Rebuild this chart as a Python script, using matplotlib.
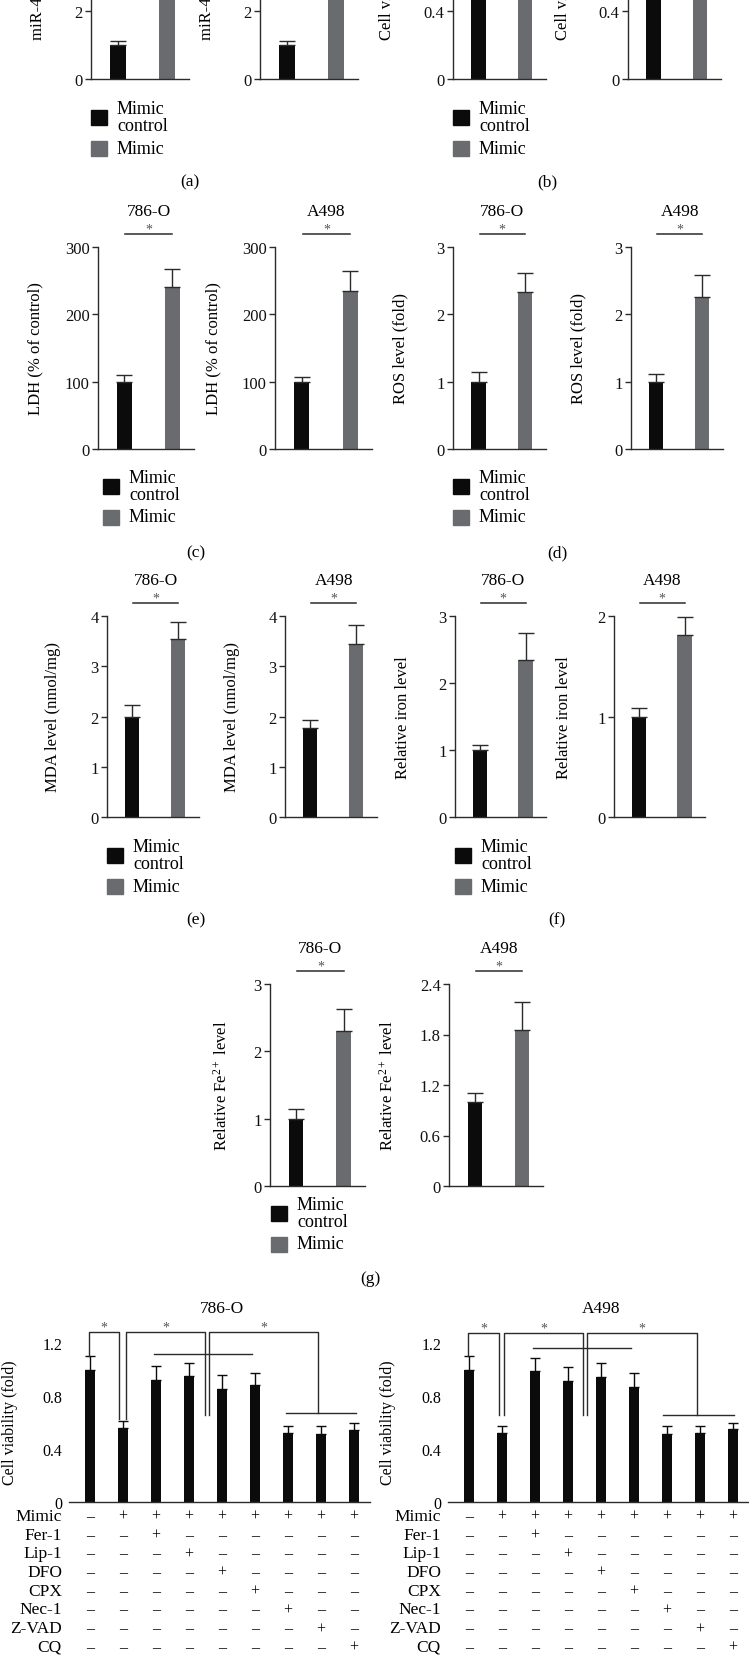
import numpy as np
import matplotlib
matplotlib.use("Agg")
import matplotlib.pyplot as plt
from matplotlib.patches import Rectangle
from matplotlib import transforms

W, H = 749, 1656

plt.rcParams['font.family'] = ['Liberation Serif', 'DejaVu Serif']
plt.rcParams['mathtext.fontset'] = 'custom'
plt.rcParams['mathtext.rm'] = 'Liberation Serif'
plt.rcParams['mathtext.it'] = 'Liberation Serif:italic'
plt.rcParams['axes.linewidth'] = 1.0

BLACK = '#0b0b0b'
GRAY = '#696b6e'
LINE = '#2b2b2b'
STAR = '#555555'

groups = ["Mimic\ncontrol", "Mimic"]

# two-group panels: [mimic control, mimic]
mir_786, mir_786_err = [1.0, 4.0], [0.12, 0.30]
mir_a498, mir_a498_err = [1.0, 4.0], [0.13, 0.30]
via_786, via_786_err = [1.0, 0.55], [0.08, 0.05]
via_a498, via_a498_err = [1.0, 0.55], [0.08, 0.05]
ldh_786, ldh_786_err = [100, 240], [10, 27]
ldh_a498, ldh_a498_err = [100, 235], [7, 29]
ros_786, ros_786_err = [1.0, 2.33], [0.14, 0.28]
ros_a498, ros_a498_err = [1.0, 2.26], [0.12, 0.32]
mda_786, mda_786_err = [1.99, 3.54], [0.24, 0.34]
mda_a498, mda_a498_err = [1.77, 3.44], [0.16, 0.38]
iron_786, iron_786_err = [1.0, 2.34], [0.07, 0.41]
iron_a498, iron_a498_err = [1.0, 1.81], [0.08, 0.18]
fe_786, fe_786_err = [1.0, 2.30], [0.14, 0.33]
fe_a498, fe_a498_err = [1.0, 1.85], [0.10, 0.34]

# panel (h): nine treatment groups
treat_rows = ["Mimic", "Fer-1", "Lip-1", "DFO", "CPX", "Nec-1", "Z-VAD", "CQ"]
treat_plus = [
    [0, 1, 1, 1, 1, 1, 1, 1, 1],
    [0, 0, 1, 0, 0, 0, 0, 0, 0],
    [0, 0, 0, 1, 0, 0, 0, 0, 0],
    [0, 0, 0, 0, 1, 0, 0, 0, 0],
    [0, 0, 0, 0, 0, 1, 0, 0, 0],
    [0, 0, 0, 0, 0, 0, 1, 0, 0],
    [0, 0, 0, 0, 0, 0, 0, 1, 0],
    [0, 0, 0, 0, 0, 0, 0, 0, 1],
]
h_786 = [1.0, 0.56, 0.92, 0.95, 0.85, 0.88, 0.52, 0.51, 0.54]
h_786_err = [0.10, 0.05, 0.11, 0.10, 0.11, 0.09, 0.05, 0.06, 0.06]
h_a498 = [1.0, 0.52, 0.99, 0.91, 0.94, 0.87, 0.51, 0.52, 0.55]
h_a498_err = [0.10, 0.05, 0.10, 0.11, 0.11, 0.10, 0.06, 0.05, 0.05]

fig = plt.figure(figsize=(W / 100, H / 100), dpi=100)

FS_TICK = 12
FS_LAB = 12
FS_TITLE = 12.5
FS_LEG = 13


def fx(x):
    return x / W


def fy(y):
    return 1 - y / H


def small_panel(L, R, y0, ytop, ticks, vals, errs, ylabel, ylabel_x,
                title=None, crop_label=False):
    topv = ticks[-1]
    ax = fig.add_axes([fx(L), fy(y0), (R - L) / W, (y0 - ytop) / H])
    ppu = (y0 - ytop) / topv
    x = np.arange(2)
    ax.bar(x, vals, width=0.31, color=[BLACK, GRAY], zorder=2)
    ax.errorbar(x, vals, yerr=[np.zeros(2), errs], fmt='none', ecolor=LINE,
                elinewidth=1.0, capsize=5.5, capthick=1.0, zorder=3)
    ax.set_xlim(-0.55, 1.45)
    ax.set_ylim(0, topv)
    ax.set_yticks(ticks)
    ax.set_yticklabels(['{:g}'.format(t) for t in ticks])
    ax.set_xticks([])
    for s in ['top', 'right']:
        ax.spines[s].set_visible(False)
    for s in ['left', 'bottom']:
        ax.spines[s].set_color(LINE)
    ax.tick_params(axis='y', length=4, width=1, pad=2, labelsize=FS_TICK,
                   colors=LINE, labelcolor='#111111')
    if crop_label:
        fig.text(fx(ylabel_x), fy(40), ylabel, rotation=90, ha='center',
                 va='bottom', fontsize=FS_LAB)
    else:
        fig.text(fx(ylabel_x), fy((y0 + ytop) / 2), ylabel, rotation=90,
                 ha='center', va='center', fontsize=FS_LAB)
    if title:
        v = topv + 13 / ppu
        ax.plot([0.02, 1.0], [v, v], color=LINE, lw=1.1, clip_on=False)
        ax.text(0.51, topv + 18 / ppu, '*', ha='center', va='center',
                fontsize=10, color=STAR)
        ax.text(0.51, topv + 36 / ppu, title, ha='center', va='center',
                fontsize=FS_TITLE)
    return ax


def legend_block(sx, sy):
    fig.add_artist(Rectangle((fx(sx), fy(sy + 15)), 16 / W, 15 / H,
                             transform=fig.transFigure, color=BLACK))
    fig.add_artist(Rectangle((fx(sx), fy(sy + 46)), 16 / W, 15 / H,
                             transform=fig.transFigure, color=GRAY))
    fig.text(fx(sx + 26), fy(sy + 7), groups[0], ha='left', va='center',
             fontsize=FS_LEG, linespacing=1.05)
    fig.text(fx(sx + 26), fy(sy + 38), groups[1], ha='left', va='center',
             fontsize=FS_LEG)


def panel_label(x, y, s):
    fig.text(fx(x), fy(y), s, ha='center', va='center', fontsize=12.5)


mir_label = "miR-4735-3p level (fold)"
via_label = "Cell viability (fold)"

# (a)
small_panel(91, 189, 80, -56, [0, 2, 4], mir_786, mir_786_err, mir_label, 38, crop_label=True)
small_panel(260, 358, 80, -56, [0, 2, 4], mir_a498, mir_a498_err, mir_label, 207, crop_label=True)
legend_block(91, 111)
panel_label(190, 182, "(a)")
# (b)
small_panel(453, 546, 80, -124, [0, 0.4, 0.8, 1.2], via_786, via_786_err, via_label, 387, crop_label=True)
small_panel(628, 721, 80, -124, [0, 0.4, 0.8, 1.2], via_a498, via_a498_err, via_label, 563, crop_label=True)
legend_block(453, 111)
panel_label(547, 182, "(b)")
# (c)
small_panel(98, 194, 450, 248, [0, 100, 200, 300], ldh_786, ldh_786_err, "LDH (% of control)", 35, "786-O")
small_panel(275, 372, 450, 248, [0, 100, 200, 300], ldh_a498, ldh_a498_err, "LDH (% of control)", 213, "A498")
legend_block(103, 480)
panel_label(196, 553, "(c)")
# (d)
small_panel(453, 546, 450, 248, [0, 1, 2, 3], ros_786, ros_786_err, "ROS level (fold)", 400, "786-O")
small_panel(631, 723, 450, 248, [0, 1, 2, 3], ros_a498, ros_a498_err, "ROS level (fold)", 578, "A498")
legend_block(453, 480)
panel_label(557, 553, "(d)")
# (e)
small_panel(107, 199, 818, 617, [0, 1, 2, 3, 4], mda_786, mda_786_err, "MDA level (nmol/mg)", 53, "786-O")
small_panel(285, 377, 818, 617, [0, 1, 2, 3, 4], mda_a498, mda_a498_err, "MDA level (nmol/mg)", 232, "A498")
legend_block(107, 849)
panel_label(196, 920, "(e)")
# (f)
small_panel(455, 546, 818, 617, [0, 1, 2, 3], iron_786, iron_786_err, "Relative iron level", 403, "786-O")
small_panel(614, 705, 818, 617, [0, 1, 2], iron_a498, iron_a498_err, "Relative iron level", 564, "A498")
legend_block(455, 849)
panel_label(557, 920, "(f)")
# (g)
fe_label = r"Relative Fe$^{2+}$ level"
small_panel(270, 365, 1187, 985, [0, 1, 2, 3], fe_786, fe_786_err, fe_label, 222, "786-O")
small_panel(449, 543, 1187, 985, [0, 0.6, 1.2, 1.8, 2.4], fe_a498, fe_a498_err, fe_label, 388, "A498")
legend_block(271, 1207)
panel_label(370, 1279, "(g)")


# (h)
def big_panel(L, R, vals, errs, title, brackets, hlines, top, ylabel_x, row_right):
    y0, ytop = 1503, 1344
    ax = fig.add_axes([fx(L), fy(y0), (R - L) / W, (y0 - ytop) / H])
    x = np.arange(len(vals))
    ax.bar(x, vals, width=0.3, color=BLACK, zorder=2)
    ax.errorbar(x, vals, yerr=[np.zeros(len(vals)), errs], fmt='none',
                ecolor=BLACK, elinewidth=1.0, capsize=3.8, capthick=1.0, zorder=3)
    ax.set_xlim(-0.64, 8.48)
    ax.set_ylim(0, 1.2)
    ticks = [0, 0.4, 0.8, 1.2]
    ax.set_yticks(ticks)
    ax.set_yticklabels(['{:g}'.format(t) for t in ticks])
    ax.set_xticks([])
    for s in ['top', 'right', 'left']:
        ax.spines[s].set_visible(False)
    ax.spines['bottom'].set_color(LINE)
    ax.tick_params(axis='y', length=0, pad=5, labelsize=11.5)
    fig.text(fx(ylabel_x), fy(1423), via_label, rotation=90, ha='center',
             va='center', fontsize=11.5)
    ax.text(4, 1.2 + 35 / 132.5, title, ha='center', va='center', fontsize=FS_TITLE)
    for xl, bl, xr, br in brackets:
        ax.plot([xl, xl, xr, xr], [bl, top, top, br], color=LINE, lw=1.0,
                clip_on=False, zorder=4)
        ax.text((xl + xr) / 2, top + 5 / 132.5, '*', ha='center', va='center',
                fontsize=10, color=STAR)
    for xa, xb, yv in hlines:
        ax.plot([xa, xb], [yv, yv], color=LINE, lw=1.0, clip_on=False, zorder=4)
    tr = transforms.blended_transform_factory(ax.transData, fig.transFigure)
    for i, name in enumerate(treat_rows):
        ry = 1517 + i * 18.7
        fig.text(fx(row_right), fy(ry), name, ha='right', va='center', fontsize=12.5)
        for j, p in enumerate(treat_plus[i]):
            ax.text(j, fy(ry), '+' if p else '\u2013', transform=tr,
                    ha='center', va='center', fontsize=11.5)
    return ax


big_panel(69, 370, h_786, h_786_err, "786-O",
          [(-0.03, 1.10, 0.88, 0.63), (1.09, 0.63, 3.48, 0.66), (3.61, 0.66, 6.91, 0.67)],
          [(1.94, 4.90, 1.117), (5.94, 8.06, 0.67)], 1.283, 10, 62)
big_panel(448, 749, h_a498, h_a498_err, "A498",
          [(-0.03, 1.10, 0.91, 0.66), (1.06, 0.66, 3.45, 0.66), (3.58, 0.66, 6.91, 0.66)],
          [(1.94, 4.91, 1.16), (5.88, 8.03, 0.66)], 1.275, 388, 441)

fig.savefig("out.png", dpi=100)
